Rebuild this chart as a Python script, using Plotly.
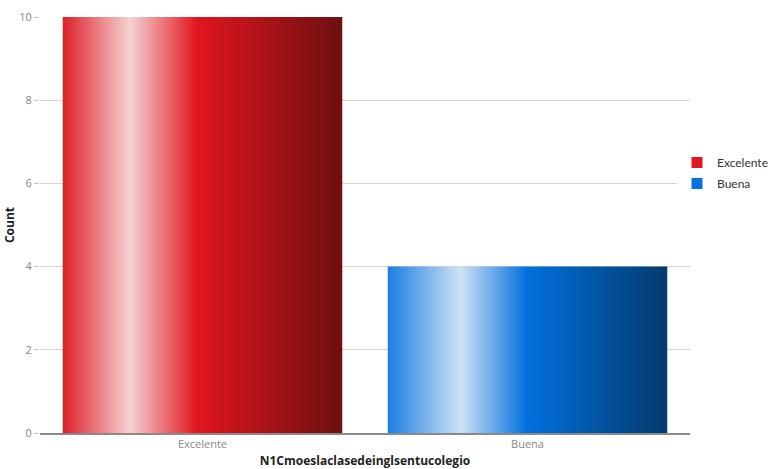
import plotly.graph_objects as go

categories = ["Excelente", "Buena"]
counts = [10, 4]
y_ticks = [0, 2, 4, 6, 8, 10]

bar_width = 0.86
gradients = [
    [[0.0, "#dc1f27"], [0.24, "#f6d2d4"], [0.48, "#e1161e"], [1.0, "#6d0f10"]],
    [[0.0, "#1a7ee2"], [0.26, "#cfe2f6"], [0.50, "#0070dd"], [1.0, "#053a6c"]],
]
solid = ["#e1161e", "#0a72dc"]

fig = go.Figure()
for i, (cat, v) in enumerate(zip(categories, counts)):
    x0, x1 = i - bar_width / 2, i + bar_width / 2
    fig.add_trace(go.Scatter(
        x=[x0, x1, x1, x0, x0],
        y=[0, 0, v, v, 0],
        mode="none",
        fill="toself",
        fillcolor=solid[i],
        fillgradient=dict(type="horizontal", colorscale=gradients[i]),
        name=cat,
        legendgroup=cat,
        showlegend=False,
        hoverinfo="skip",
    ))
    # legend swatch
    fig.add_trace(go.Scatter(
        x=[None], y=[None], mode="markers",
        marker=dict(symbol="square", size=11, color=solid[i]),
        name=cat, legendgroup=cat, showlegend=True,
    ))

font_family = "Open Sans, Noto Sans, sans-serif"
fig.update_layout(
    width=771, height=469,
    margin=dict(l=40, r=81, t=17, b=36, autoexpand=False),
    plot_bgcolor="white", paper_bgcolor="white",
    font=dict(family=font_family, size=11, color="#888888"),
    showlegend=True,
    legend=dict(x=0.98, y=0.625, xanchor="left", yanchor="middle",
                font=dict(size=12, color="#333333", family="Lato, sans-serif"),
                itemwidth=30, tracegroupgap=2),
    xaxis=dict(
        range=[-0.5, 1.5],
        tickmode="array", tickvals=list(range(len(categories))), ticktext=categories,
        showgrid=False, zeroline=False,
        showline=True, linecolor="#8a8a8a", linewidth=2,
        ticks="", tickfont=dict(size=11, color="#888888"),
        title=dict(text="<b>N1Cmoeslaclasedeinglsentucolegio</b>",
                   font=dict(size=12, color="#222222", family=font_family), standoff=9),
    ),
    yaxis=dict(
        range=[0, 10], tickvals=y_ticks,
        showgrid=True, gridcolor="#d4d4d4", gridwidth=1,
        zeroline=False, showline=False,
        ticks="outside", ticklen=5, tickcolor="#c8c8c8",
        tickfont=dict(size=11, color="#888888"),
        title=dict(text="<b>Count</b>", font=dict(size=12, color="#222222", family=font_family), standoff=2),
    ),
)
fig.write_html("out.html", config={"displayModeBar": False},
               post_script="document.body.style.margin='0';document.body.style.overflow='hidden';")
